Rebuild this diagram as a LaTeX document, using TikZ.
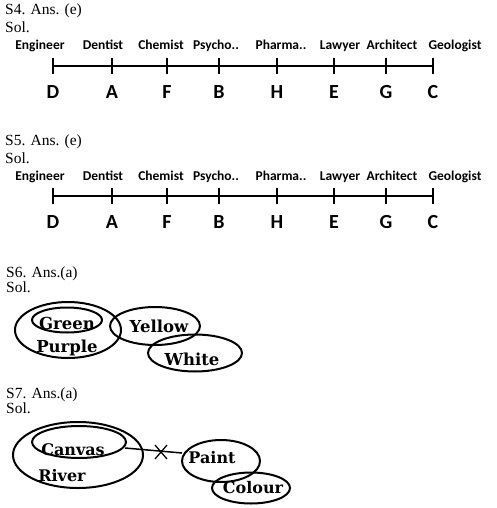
\documentclass[tikz,border=0pt]{standalone}
\usepackage{fontspec}
\setmainfont{Liberation Serif}
\newfontfamily\lblfont{Carlito}
\newfontfamily\vfont{DejaVu Serif}
\usetikzlibrary{shapes.geometric}
\begin{document}
\begin{tikzpicture}[x=1pt,y=-1pt,
  hdr/.style={anchor=base west,inner sep=0pt,font=\fontsize{15.5}{17}\selectfont},
  lbl/.style={anchor=base,inner sep=0pt,font=\lblfont\bfseries\fontsize{13.5}{15}\selectfont},
  let/.style={anchor=base,inner sep=0pt,font=\lblfont\bfseries\fontsize{20}{22}\selectfont},
  tk/.style={inner sep=0pt,minimum size=0pt},
  axis/.style={line width=2pt},
  tick/.style={line width=2pt},
  ell/.style={draw,ellipse,line width=2pt,inner sep=0pt},
  vt/.style={inner sep=0pt,font=\vfont\bfseries\fontsize{16.5}{18}\selectfont},
  vs/.style={inner sep=0pt,font=\vfont\bfseries\fontsize{16}{18}\selectfont},
]
\useasboundingbox (0,0) rectangle (496,508);
\fill[white] (0,0) rectangle (496,508);

% ---------- S4 ----------
\node[hdr] (s4h) at (5,15) {S4. Ans. (e)};
\node[hdr] (s4s) at (5,33) {Sol.};
\foreach \n/\x/\lab/\lx/\L in {d/53/Engineer/40/D, a/112/Dentist/103/A, f/167/Chemist/161/F, b/219/Psycho../216/B, h/277/Pharma../281/H, e/334/Lawyer/340/E, g/386/Architect/392/G, c/433/Geologist/455/C}{
  \node[tk] (p\n) at (\x,66) {};
  \node[tk] (pt\n) at (\x,58) {};
  \node[tk] (pb\n) at (\x,74) {};
  \draw[tick] (pt\n) -- (pb\n);
  \node[lbl] (l\n) at (\lx,50) {\lab};
  \node[let] (L\n) at (\x,99) {\L};
}
\draw[axis] (pd) -- (pc);

% ---------- S5 ----------
\node[hdr] (s5h) at (5,145) {S5. Ans. (e)};
\node[hdr] (s5s) at (5,163) {Sol.};
\foreach \n/\x/\lab/\lx/\L in {d/53/Engineer/40/D, a/112/Dentist/103/A, f/167/Chemist/161/F, b/219/Psycho../216/B, h/277/Pharma../281/H, e/334/Lawyer/340/E, g/386/Architect/392/G, c/433/Geologist/455/C}{
  \node[tk] (q\n) at (\x,196) {};
  \node[tk] (qt\n) at (\x,188) {};
  \node[tk] (qb\n) at (\x,204) {};
  \draw[tick] (qt\n) -- (qb\n);
  \node[lbl] (m\n) at (\lx,180) {\lab};
  \node[let] (M\n) at (\x,228) {\L};
}
\draw[axis] (qd) -- (qc);

% ---------- S6 ----------
\node[hdr] (s6h) at (6,277) {S6. Ans.(a)};
\node[hdr] (s6s) at (6,292) {Sol.};
\node[ell,minimum width=106pt,minimum height=56pt] (purple) at (68,330) {};
\node[ell,minimum width=70pt,minimum height=25pt] (green) at (67,320) {};
\node[ell,minimum width=90pt,minimum height=38pt] (yellow) at (155,326) {};
\node[ell,minimum width=94pt,minimum height=37pt] (white) at (195,353) {};
\node[vt] (tgreen) at (67,323) {Green};
\node[vt] (tpurple) at (67,348) {Purple};
\node[vt] (tyellow) at (159,326) {Yellow};
\node[vt] (twhite) at (192,359) {White};

% ---------- S7 ----------
\node[hdr] (s7h) at (6,398) {S7. Ans.(a)};
\node[hdr] (s7s) at (6,413) {Sol.};
\node[ell,minimum width=130pt,minimum height=66pt] (river) at (78,455) {};
\node[ell,minimum width=94pt,minimum height=32pt] (canvas) at (79,442) {};
\node[ell,minimum width=78pt,minimum height=42pt] (paint) at (221,461) {};
\node[ell,minimum width=78pt,minimum height=31pt] (colour) at (251,488) {};
\node[vs] (tcanvas) at (73,450) {Canvas};
\node[vs] (triver) at (62,476) {River};
\node[vs] (tpaint) at (212,458) {Paint};
\node[vs] (tcolour) at (253,488) {Colour};
\coordinate (ca) at (125,448);
\coordinate (pa) at (182,453);
\draw[line width=1.5pt] (ca) -- (pa);
\coordinate (x1) at (155,445);
\coordinate (x2) at (167,459);
\coordinate (x3) at (155,459);
\coordinate (x4) at (167,445);
\draw[line width=1.3pt] (x1) -- (x2);
\draw[line width=1.3pt] (x3) -- (x4);
\end{tikzpicture}
\end{document}
